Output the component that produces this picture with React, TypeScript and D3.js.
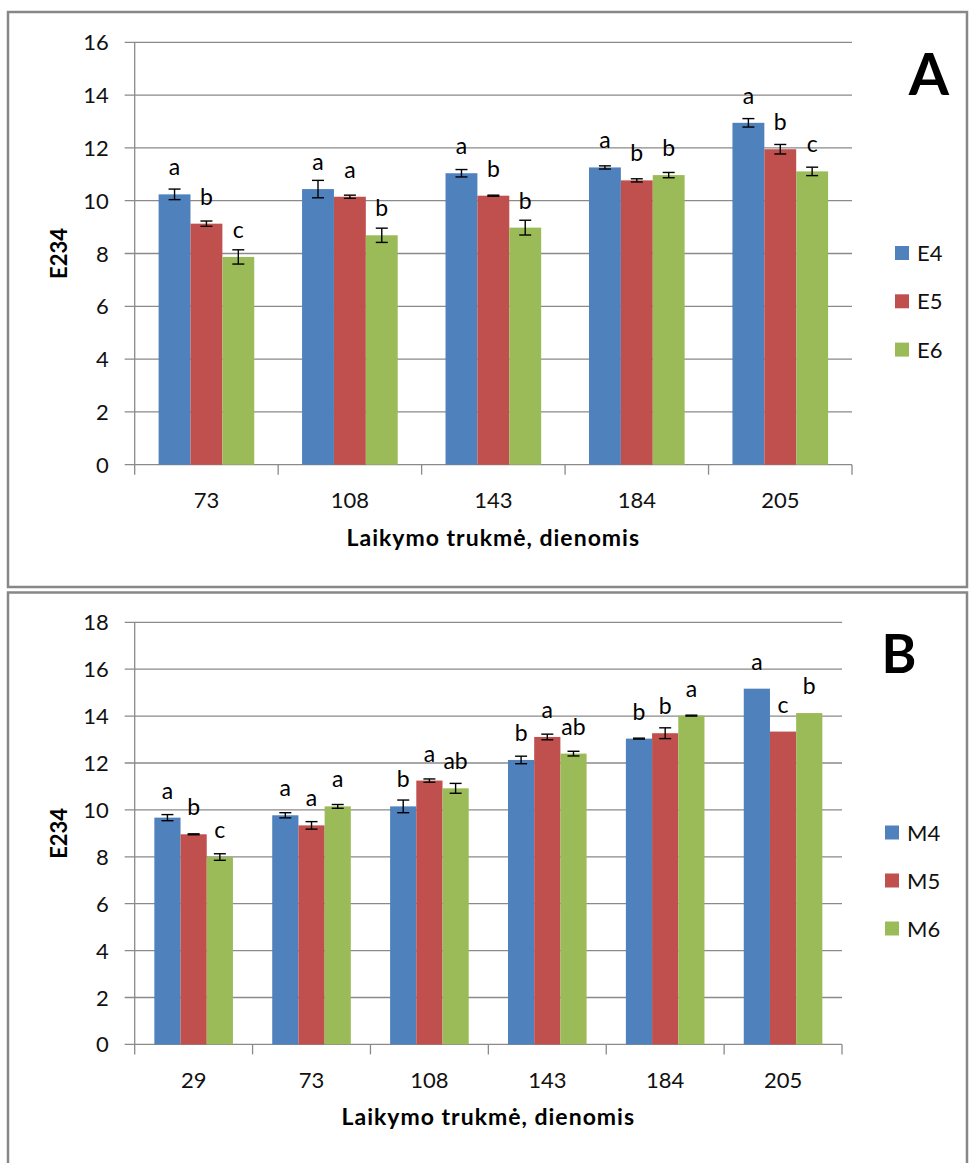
import React from "react";
import * as d3 from "d3";

// Storage duration groups (days) and treatment series
const daysA = ["73", "108", "143", "184", "205"];
const seriesA = ["E4", "E5", "E6"];
const valuesE4 = [10.24, 10.44, 11.04, 11.26, 12.95];
const valuesE5 = [9.13, 10.15, 10.19, 10.77, 11.95];
const valuesE6 = [7.87, 8.69, 8.98, 10.97, 11.11];
const errorsE4 = [0.2, 0.33, 0.14, 0.06, 0.16];
const errorsE5 = [0.1, 0.06, 0.02, 0.06, 0.18];
const errorsE6 = [0.27, 0.27, 0.28, 0.1, 0.16];
const lettersE4 = ["a", "a", "a", "a", "a"];
const lettersE5 = ["b", "a", "b", "b", "b"];
const lettersE6 = ["c", "b", "b", "b", "c"];
const ticksA = [0, 2, 4, 6, 8, 10, 12, 14, 16];

const daysB = ["29", "73", "108", "143", "184", "205"];
const seriesB = ["M4", "M5", "M6"];
const valuesM4 = [9.67, 9.77, 10.15, 12.13, 13.04, 15.17];
const valuesM5 = [8.96, 9.34, 11.25, 13.11, 13.27, 13.34];
const valuesM6 = [7.99, 10.15, 10.92, 12.4, 14.02, 14.13];
const errorsM4 = [0.13, 0.11, 0.27, 0.16, 0.02, 0];
const errorsM5 = [0.02, 0.16, 0.07, 0.12, 0.23, 0];
const errorsM6 = [0.14, 0.08, 0.21, 0.1, 0.02, 0];
const lettersM4 = ["a", "a", "b", "b", "b", "a"];
const lettersM5 = ["b", "a", "a", "a", "b", "c"];
const lettersM6 = ["c", "a", "ab", "ab", "a", "b"];
const ticksB = [0, 2, 4, 6, 8, 10, 12, 14, 16, 18];

const COLORS = ["#4F81BD", "#C0504D", "#9BBB59"];
const FONT = "Lato, 'Open Sans', sans-serif";
const xTitle = "Laikymo trukmė, dienomis";
const yTitle = "E234";

type PanelProps = {
  tag: string;
  categories: string[];
  series: string[];
  values: number[][];
  errors: number[][];
  letters: string[][];
  ticks: number[];
  frame: { x: number; y: number; w: number; h: number };
  plot: { left: number; right: number; top: number; bottom: number };
  legend: { x: number; y: number; gap: number };
  tagPos: { x: number; y: number; size: number };
};

function Panel(p: PanelProps) {
  const yMax = p.ticks[p.ticks.length - 1];
  const y = d3.scaleLinear().domain([0, yMax]).range([p.plot.bottom, p.plot.top]);
  const x0 = d3
    .scaleBand<string>()
    .domain(p.categories)
    .range([p.plot.left, p.plot.right])
    .paddingInner(0)
    .paddingOuter(0);
  const x1 = d3
    .scaleBand<string>()
    .domain(p.series)
    .range([0, x0.bandwidth()])
    .paddingInner(0)
    .paddingOuter(0.75);
  const bw = x1.bandwidth();
  const gridColor = "#8a8a8a";
  const boundaries = [...p.categories.map((c) => x0(c) as number), p.plot.right];

  return (
    <g>
      <rect
        x={p.frame.x}
        y={p.frame.y}
        width={p.frame.w}
        height={p.frame.h}
        fill="#fff"
        stroke="#878787"
        strokeWidth={2.5}
      />
      {/* gridlines with y ticks */}
      {p.ticks.map((t) => (
        <g key={"g" + t}>
          <line
            x1={p.plot.left - 10}
            x2={p.plot.right}
            y1={y(t)}
            y2={y(t)}
            stroke={gridColor}
            strokeWidth={1.3}
          />
          <text
            x={p.plot.left - 26}
            y={y(t) + 8}
            textAnchor="end"
            fontFamily={FONT}
            fontSize={22}
            fill="#111"
          >
            {t}
          </text>
        </g>
      ))}
      <line
        x1={p.plot.left}
        x2={p.plot.left}
        y1={p.plot.top}
        y2={p.plot.bottom}
        stroke={gridColor}
        strokeWidth={1.3}
      />
      {boundaries.map((bx, i) => (
        <line
          key={"t" + i}
          x1={bx}
          x2={bx}
          y1={p.plot.bottom}
          y2={p.plot.bottom + 10}
          stroke={gridColor}
          strokeWidth={1.3}
        />
      ))}
      {/* bars, error bars and significance letters */}
      {p.categories.map((c, ci) =>
        p.series.map((s, si) => {
          const v = p.values[si][ci];
          const e = p.errors[si][ci];
          const bx = (x0(c) as number) + (x1(s) as number);
          const cx = bx + bw / 2;
          return (
            <g key={c + s}>
              <rect x={bx} y={y(v)} width={bw} height={y(0) - y(v)} fill={COLORS[si]} />
              {e > 0 && (
                <g stroke="#000" strokeWidth={1.4}>
                  <line x1={cx} x2={cx} y1={y(v + e)} y2={y(v - e)} />
                  <line x1={cx - 6} x2={cx + 6} y1={y(v + e)} y2={y(v + e)} />
                  <line x1={cx - 6} x2={cx + 6} y1={y(v - e)} y2={y(v - e)} />
                </g>
              )}
              <text
                x={cx}
                y={y(v) - 19}
                textAnchor="middle"
                fontFamily={FONT}
                fontSize={23}
                fill="#000"
              >
                {p.letters[si][ci]}
              </text>
            </g>
          );
        })
      )}
      {/* category labels */}
      {p.categories.map((c) => (
        <text
          key={"c" + c}
          x={(x0(c) as number) + x0.bandwidth() / 2}
          y={p.plot.bottom + 43.5}
          textAnchor="middle"
          fontFamily={FONT}
          fontSize={22}
          fill="#111"
        >
          {c}
        </text>
      ))}
      <text
        x={(p.plot.left + p.plot.right) / 2}
        y={p.plot.bottom + 81}
        textAnchor="middle"
        fontFamily={FONT}
        fontWeight="bold"
        fontSize={23}
        letterSpacing={1}
        fill="#000"
      >
        {xTitle}
      </text>
      <text
        transform={`translate(${67},${(p.plot.top + p.plot.bottom) / 2}) rotate(-90)`}
        textAnchor="middle"
        fontFamily={FONT}
        fontWeight="bold"
        fontSize={22}
        fill="#000"
      >
        {yTitle}
      </text>
      {/* legend */}
      {p.series.map((s, si) => {
        const ly = p.legend.y + si * p.legend.gap;
        return (
          <g key={"l" + s}>
            <rect x={p.legend.x} y={ly - 7} width={14} height={14} fill={COLORS[si]} />
            <text x={p.legend.x + 22} y={ly + 8} fontFamily={FONT} fontSize={22} fill="#111">
              {s}
            </text>
          </g>
        );
      })}
      <text
        x={p.tagPos.x}
        y={p.tagPos.y}
        textAnchor="middle"
        fontFamily={FONT}
        fontWeight="bold"
        fontSize={p.tagPos.size}
        fill="#000"
      >
        {p.tag}
      </text>
    </g>
  );
}

export default function App() {
  return (
    <svg
      width={969}
      height={1163}
      style={{ position: "absolute", left: 0, top: 0, background: "#fff" }}
    >
      <Panel
        tag="A"
        categories={daysA}
        series={seriesA}
        values={[valuesE4, valuesE5, valuesE6]}
        errors={[errorsE4, errorsE5, errorsE6]}
        letters={[lettersE4, lettersE5, lettersE6]}
        ticks={ticksA}
        frame={{ x: 8, y: 12, w: 959, h: 575 }}
        plot={{ left: 134.7, right: 852, top: 42.3, bottom: 464.7 }}
        legend={{ x: 895, y: 253, gap: 48.3 }}
        tagPos={{ x: 929, y: 95, size: 58 }}
      />
      <Panel
        tag="B"
        categories={daysB}
        series={seriesB}
        values={[valuesM4, valuesM5, valuesM6]}
        errors={[errorsM4, errorsM5, errorsM6]}
        letters={[lettersM4, lettersM5, lettersM6]}
        ticks={ticksB}
        frame={{ x: 8, y: 592.5, w: 959, h: 600 }}
        plot={{ left: 134.7, right: 842, top: 622.3, bottom: 1044.4 }}
        legend={{ x: 885, y: 832.5, gap: 48 }}
        tagPos={{ x: 899, y: 673, size: 53 }}
      />
    </svg>
  );
}
